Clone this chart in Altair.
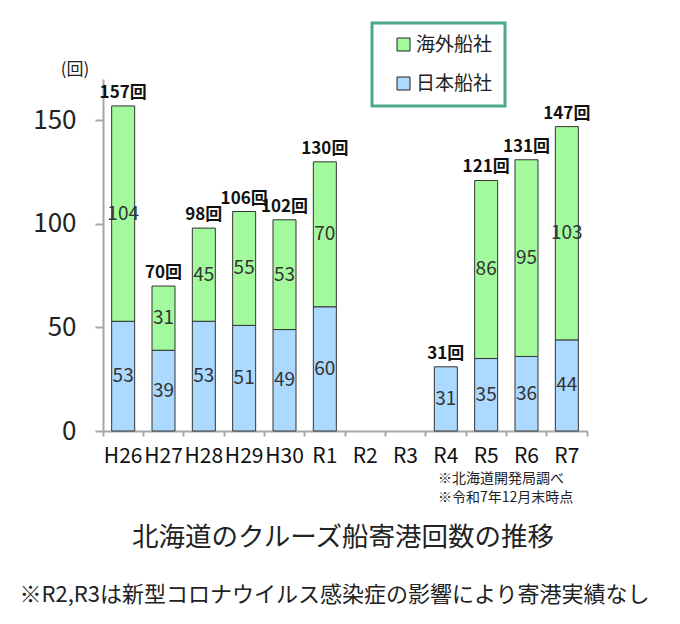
import altair as alt
import pandas as pd

# ---- data ----
years = ["H26", "H27", "H28", "H29", "H30", "R1", "R2", "R3", "R4", "R5", "R6", "R7"]
japan = [53, 39, 53, 51, 49, 60, 0, 0, 31, 35, 36, 44]
foreign = [104, 31, 45, 55, 53, 70, 0, 0, 0, 86, 95, 103]
totals = [157, 70, 98, 106, 102, 130, 0, 0, 31, 121, 131, 147]
series = ["海外船社", "日本船社"]
colors = ["#a3fa9d", "#acd9ff"]
y_ticks = [0, 50, 100, 150]
unit_label = "(回)"
notes = ["※北海道開発局調べ", "※令和7年12月末時点"]
title_text = "北海道のクルーズ船寄港回数の推移"
footnote = "※R2,R3は新型コロナウイルス感染症の影響により寄港実績なし"

rows = []
for yr, j, f in zip(years, japan, foreign):
    if j > 0:
        rows.append(dict(year=yr, series="日本船社", value=j, order=0))
    if f > 0:
        rows.append(dict(year=yr, series="海外船社", value=f, order=1))
df = pd.DataFrame(rows)
tot = pd.DataFrame([dict(year=yr, total=t, label=f"{t}回") for yr, t in zip(years, totals) if t > 0])

FONT = "Noto Sans CJK JP"
W, H = 484, 352
GREY = "#a6a6a6"

xenc = alt.X(
    "year:N",
    scale=alt.Scale(domain=years, paddingInner=0, paddingOuter=0),
    axis=alt.Axis(
        title=None, labelAngle=0, bandPosition=1, tickExtra=True,
        tickSize=5, tickColor=GREY, tickWidth=2,
        domainColor=GREY, domainWidth=2, labelFont=FONT, labelFontSize=21,
        labelColor="#111", labelPadding=9,
    ),
)
yenc = alt.Y(
    "v0:Q",
    scale=alt.Scale(domain=[0, 170], nice=False),
    axis=alt.Axis(
        values=y_ticks, title=None, grid=False, tickSize=8, tickWidth=2,
        tickColor=GREY, domainColor=GREY, domainWidth=2, labelFont=FONT,
        labelFontSize=26, labelColor="#222", labelPadding=19,
    ),
)

base = alt.Chart(df).transform_stack(
    stack="value", groupby=["year"], as_=["v0", "v1"],
    sort=[alt.SortField(field="order", order="ascending")],
).transform_calculate(mid="(datum.v0 + datum.v1) / 2")

bars = base.mark_bar(size=23, stroke="#333", strokeWidth=1).encode(
    x=xenc,
    y=yenc,
    y2="v1:Q",
    color=alt.Color(
        "series:N",
        scale=alt.Scale(domain=series, range=colors),
        legend=alt.Legend(
            title=None, orient="none", legendX=269, legendY=-56,
            strokeColor="#4aa88f", fillColor="white", padding=12,
            symbolType="square", symbolSize=169, symbolStrokeColor="#222",
            symbolStrokeWidth=1, labelFont=FONT, labelFontSize=19,
            labelColor="#222", rowPadding=19, labelOffset=3, symbolOffset=10,
            labelExpr="datum.label + '　'",
        ),
    ),
)

inner = base.mark_text(font=FONT, fontSize=19, color="#333").encode(
    x=alt.X("year:N"), y=alt.Y("mid:Q"), text="value:Q"
)

top = alt.Chart(tot).mark_text(
    font=FONT, fontSize=17, fontWeight="bold", baseline="bottom", dy=-4, color="#111"
).encode(x="year:N", y="total:Q", text="label:N")


def annot(text, x, y, size, align="center", weight="normal"):
    return alt.Chart(pd.DataFrame({"t": [text]})).mark_text(
        font=FONT, fontSize=size, align=align, baseline="middle", color="#222",
        fontWeight=weight,
    ).encode(text="t:N", x=alt.value(x), y=alt.value(y))


unit = annot(unit_label, -28, -9, 17)
note1 = annot(notes[0], 335, 400, 14, align="left")
note2 = annot(notes[1], 335, 419, 14, align="left")
ttl = annot(title_text, 240, 459, 26.5)
foot = annot(footnote, 231.5, 516, 22)

chart = alt.layer(bars, inner, top, unit, note1, note2, ttl, foot).properties(
    width=W, height=H,
    autosize=alt.AutoSizeParams(type="none"),
    padding={"left": 95, "top": 71, "right": 85, "bottom": 185},
).configure_view(stroke=None).configure_legend(strokeWidth=3)

chart.save("out.html", embed_options={"renderer": "svg", "actions": False})
